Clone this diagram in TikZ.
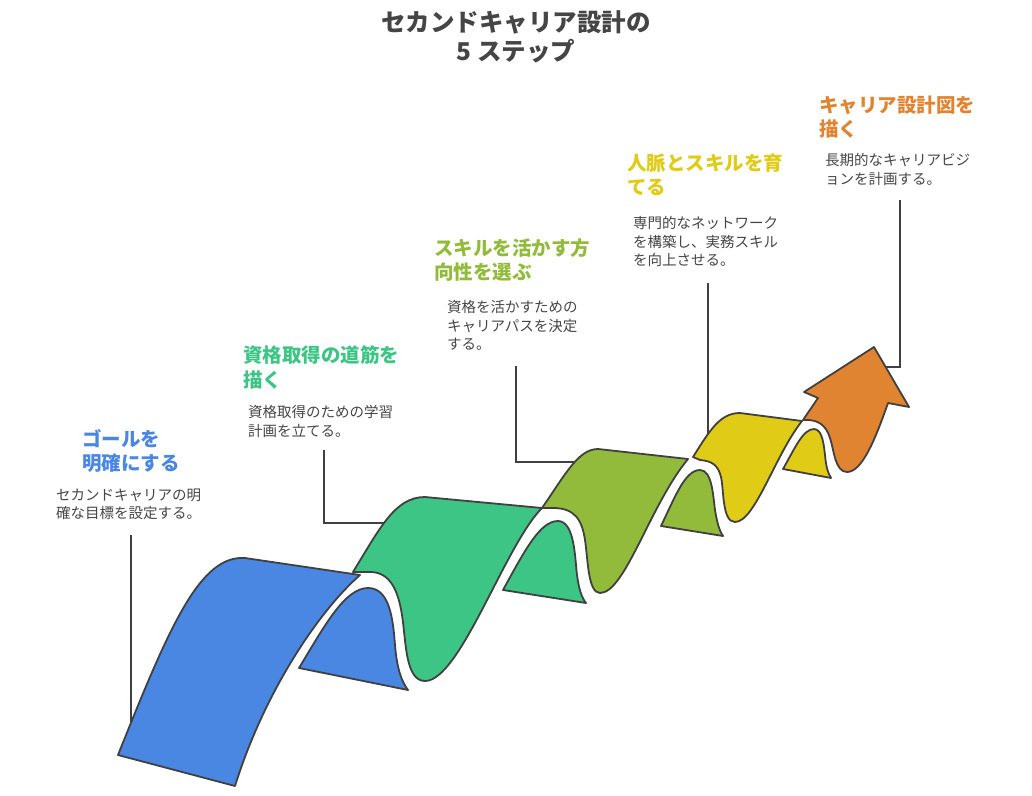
\documentclass[tikz,border=0pt]{standalone}
\usepackage{fontspec}
\setmainfont{Noto Sans CJK JP}
\usetikzlibrary{calc}

\definecolor{edge}{HTML}{404040}
\definecolor{txt}{HTML}{454545}
\definecolor{c1}{HTML}{4A87E3}
\definecolor{c2}{HTML}{3DC585}
\definecolor{c3}{HTML}{93BB3B}
\definecolor{c4}{HTML}{E0CB16}
\definecolor{c5}{HTML}{E08431}

\tikzset{
  ribbon/.style={draw=edge, line width=1.8pt, line join=round, fill=#1},
  leader/.style={draw=edge, line width=1.8pt},
  title/.style={anchor=north, inner sep=0pt, align=center, text=txt,
    font=\fontsize{24.5}{28.5}\selectfont\bfseries},
  head/.style={anchor=north west, inner sep=0pt, align=left, text=#1,
    font=\fontsize{19.5}{24.5}\selectfont\bfseries},
  desc/.style={anchor=north west, inner sep=0pt, align=left, text=txt,
    font=\fontsize{14.5}{18.7}\selectfont},
}

\begin{document}
\begin{tikzpicture}[x=1pt, y=-1pt]
    \useasboundingbox (0,0) rectangle (1032,795);

    \node[title] (t) at (516,10.5) {セカンドキャリア設計の\\5 ステップ};

    \coordinate (l1a) at (131,535);
    \coordinate (l1b) at (131,740);
    \coordinate (l2a) at (324,450);
    \coordinate (l2b) at (400,523);
    \coordinate (l3a) at (516,366);
    \coordinate (l3b) at (590,462);
    \coordinate (l4a) at (708,283);
    \coordinate (l4b) at (708,445);
    \coordinate (l5a) at (900,200);
    \coordinate (l5b) at (880,367);

    \draw[leader] (l1a) -- (l1b);
    \draw[leader] (l2a) |- (l2b);
    \draw[leader] (l3a) |- (l3b);
    \draw[leader] (l4a) -- (l4b);
    \draw[leader] (l5a) |- (l5b);

    \path[ribbon=c1] (299,668) .. controls (325,625) and (345,588) .. (368,588)
      .. controls (390,588) and (393,620) .. (395,645)
      .. controls (397,670) and (402,682) .. (408,690) -- cycle;
    \path[ribbon=c1] (118,755) .. controls (170,625) and (200,555) .. (245,558)
      -- (360,575) .. controls (320,610) and (265,690) .. (235,786) -- cycle;

    \path[ribbon=c2] (503,590) .. controls (525,550) and (540,521) .. (558,521)
      .. controls (575,521) and (575,560) .. (577,575)
      .. controls (579,590) and (582,598) .. (586,603) -- cycle;
    \path[ribbon=c2] (353,572) .. controls (380,528) and (395,497) .. (425,497)
      -- (542,508) .. controls (505,545) and (460,681) .. (425,681)
      .. controls (405,681) and (406,640) .. (402,615)
      .. controls (398,590) and (390,572) .. (370,572) -- cycle;

    \path[ribbon=c3] (661,526) .. controls (675,497) and (685,470) .. (700,470)
      .. controls (712,470) and (713,495) .. (715,510)
      .. controls (717,522) and (719,530) .. (723,536) -- cycle;
    \path[ribbon=c3] (542,508) .. controls (565,475) and (578,449) .. (598,449)
      -- (688,459) .. controls (650,505) and (625,593) .. (600,593)
      .. controls (588,593) and (588,560) .. (585,540)
      .. controls (582,520) and (575,508) .. (553,508) -- cycle;

    \path[ribbon=c4] (783,469) .. controls (795,448) and (803,429) .. (814,429)
      .. controls (823,429) and (824,448) .. (825,455)
      .. controls (826,467) and (828,473) .. (831,478) -- cycle;
    \path[ribbon=c4] (693,457) .. controls (710,430) and (720,413) .. (740,413)
      -- (802,421) .. controls (775,455) and (755,522) .. (735,522)
      .. controls (722,522) and (724,490) .. (721,477)
      .. controls (718,465) and (712,461) .. (700,460) -- cycle;

    \path[ribbon=c5] (803,420) -- (818,398) -- (804,392) -- (874,347) -- (909,407)
      -- (888,403) .. controls (875,440) and (862,472) .. (847,472)
      .. controls (835,472) and (834,450) .. (830,438)
      .. controls (826,425) and (818,419) .. (803,420) -- cycle;

    \node[head=c1] (h1) at (82,429) {ゴールを\\明確にする};
    \node[desc] (d1) at (56,488.5) {セカンドキャリアの明\\確な目標を設定する。};

    \node[head=c2] (h2) at (243,345.5) {資格取得の道筋を\\描く};
    \node[desc] (d2) at (248,405) {資格取得のための学習\\計画を立てる。};

    \node[head=c3] (h3) at (434,238.5) {スキルを活かす方\\向性を選ぶ};
    \node[desc] (d3) at (447,300) {資格を活かすための\\キャリアパスを決定\\する。};

    \node[head=c4] (h4) at (627,153.5) {人脈とスキルを育\\てる};
    \node[desc] (d4) at (633,216) {専門的なネットワーク\\を構築し、実務スキル\\を向上させる。};

    \node[head=c5] (h5) at (819,95.5) {キャリア設計図を\\描く};
    \node[desc] (d5) at (825,153) {長期的なキャリアビジ\\ョンを計画する。};
\end{tikzpicture}
\end{document}
